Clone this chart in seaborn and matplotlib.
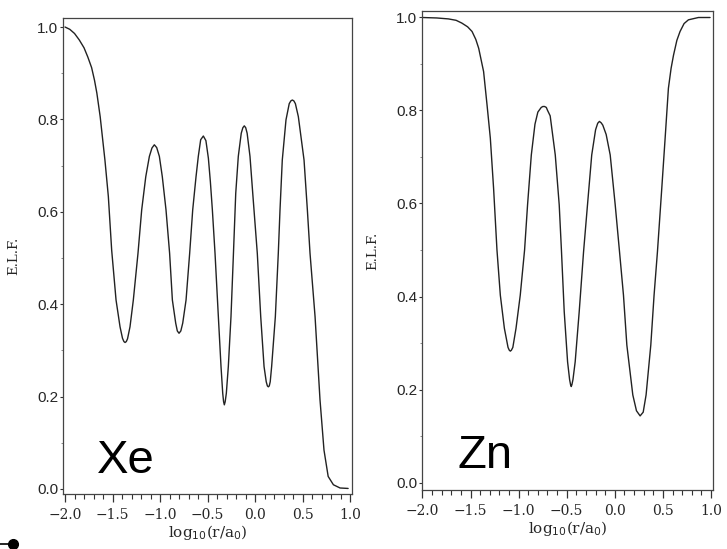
import matplotlib
matplotlib.use('Agg')
import matplotlib.pyplot as plt
from matplotlib.lines import Line2D
from matplotlib.ticker import MultipleLocator
import pandas as pd
import seaborn as sns

# valores: log10(r/a0) e E.L.F.
xe_x = [-2.00, -1.95, -1.90, -1.85, -1.80, -1.76, -1.72, -1.69, -1.665, -1.63,
        -1.58, -1.544, -1.509, -1.463, -1.421, -1.395, -1.380, -1.368, -1.355, -1.342,
        -1.316, -1.281, -1.232, -1.193, -1.150, -1.112, -1.085, -1.060, -1.035, -1.007,
        -0.976, -0.937, -0.899, -0.870, -0.835, -0.818, -0.800, -0.781, -0.761, -0.726,
        -0.688, -0.656, -0.621, -0.597, -0.572, -0.544, -0.517, -0.491, -0.470, -0.449,
        -0.421, -0.386, -0.358, -0.340, -0.331, -0.323, -0.314, -0.302, -0.281, -0.253,
        -0.228, -0.203, -0.176, -0.145, -0.128, -0.113, -0.098, -0.083, -0.053, -0.024,
        0.024, 0.060, 0.095, 0.118, 0.130, 0.140, 0.150, 0.160, 0.175, 0.214,
        0.245, 0.263, 0.287, 0.326, 0.360, 0.377, 0.393, 0.409, 0.425, 0.456,
        0.516, 0.551, 0.579, 0.632, 0.684, 0.726, 0.770, 0.825, 0.895, 0.980]
xe_y = [1.000, 0.995, 0.986, 0.972, 0.955, 0.935, 0.912, 0.885, 0.857, 0.806,
        0.712, 0.633, 0.517, 0.409, 0.351, 0.326, 0.319, 0.317, 0.319, 0.325,
        0.351, 0.409, 0.510, 0.604, 0.676, 0.720, 0.738, 0.745, 0.739, 0.720,
        0.676, 0.604, 0.510, 0.409, 0.359, 0.342, 0.337, 0.342, 0.359, 0.409,
        0.510, 0.604, 0.676, 0.720, 0.756, 0.764, 0.754, 0.716, 0.665, 0.604,
        0.510, 0.373, 0.265, 0.207, 0.189, 0.182, 0.189, 0.207, 0.265, 0.373,
        0.505, 0.640, 0.720, 0.770, 0.782, 0.786, 0.782, 0.770, 0.720, 0.640,
        0.510, 0.373, 0.265, 0.232, 0.223, 0.221, 0.223, 0.232, 0.265, 0.373,
        0.510, 0.604, 0.712, 0.799, 0.834, 0.840, 0.842, 0.840, 0.834, 0.806,
        0.712, 0.604, 0.510, 0.373, 0.193, 0.084, 0.027, 0.009, 0.002, 0.001]

zn_x = [-2.00, -1.85, -1.73, -1.65, -1.59, -1.53, -1.484, -1.445, -1.415, -1.364,
        -1.328, -1.294, -1.260, -1.225, -1.190, -1.148, -1.110, -1.097, -1.086, -1.075,
        -1.060, -1.027, -0.983, -0.938, -0.907, -0.868, -0.830, -0.800, -0.765, -0.748,
        -0.730, -0.712, -0.700, -0.672, -0.619, -0.578, -0.555, -0.526, -0.491, -0.470,
        -0.460, -0.453, -0.446, -0.435, -0.412, -0.370, -0.325, -0.284, -0.240, -0.200,
        -0.178, -0.160, -0.142, -0.125, -0.090, -0.048, 0.004, 0.049, 0.090, 0.125,
        0.187, 0.225, 0.263, 0.295, 0.325, 0.374, 0.408, 0.443, 0.488, 0.523,
        0.557, 0.585, 0.610, 0.645, 0.678, 0.720, 0.765, 0.869, 0.990]
zn_y = [0.999, 0.998, 0.996, 0.993, 0.987, 0.979, 0.969, 0.952, 0.933, 0.883,
        0.811, 0.740, 0.632, 0.500, 0.403, 0.332, 0.291, 0.285, 0.283, 0.285,
        0.291, 0.332, 0.403, 0.500, 0.597, 0.704, 0.770, 0.796, 0.806, 0.808,
        0.808, 0.806, 0.800, 0.788, 0.704, 0.597, 0.500, 0.368, 0.260, 0.222,
        0.211, 0.207, 0.211, 0.222, 0.260, 0.368, 0.496, 0.597, 0.704, 0.758,
        0.772, 0.776, 0.773, 0.768, 0.748, 0.704, 0.597, 0.496, 0.403, 0.296,
        0.189, 0.155, 0.144, 0.152, 0.189, 0.296, 0.403, 0.496, 0.632, 0.740,
        0.847, 0.890, 0.918, 0.950, 0.969, 0.986, 0.994, 0.999, 0.999]

elementos = ['Xe', 'Zn']
yticks = [0.0, 0.2, 0.4, 0.6, 0.8, 1.0]
xticks = [-2.0, -1.5, -1.0, -0.5, 0.0, 0.5, 1.0]

df_xe = pd.DataFrame({'r': xe_x, 'elf': xe_y})
df_zn = pd.DataFrame({'r': zn_x, 'elf': zn_y})

sns.set_style('ticks')
fig = plt.figure(figsize=(7.27, 5.49), dpi=100)

ax1 = fig.add_axes([0.0867, 0.1002, 0.3975, 0.867])
ax2 = fig.add_axes([0.5805, 0.1075, 0.4003, 0.8725])

# limites de cada painel medidos na figura
limites = {ax1: ((-2.021, 1.021), (-0.011, 1.0195)),
           ax2: ((-2.004, 1.021), (-0.015, 1.013))}

for ax, df, nome, pos in [(ax1, df_xe, elementos[0], (-1.663, 0.035)),
                          (ax2, df_zn, elementos[1], (-1.637, 0.032))]:
    sns.lineplot(data=df, x='r', y='elf', ax=ax, color='#222222', linewidth=1.0,
                 estimator=None, sort=False)
    ax.set_xlim(*limites[ax][0])
    ax.set_ylim(*limites[ax][1])
    ax.set_xticks(xticks)
    ax.set_xticklabels(['\u22122.0', '\u22121.5', '\u22121.0', '\u22120.5', '0.0', '0.5', '1.0'],
                       family='DejaVu Serif', fontsize=10)
    ax.set_yticks(yticks)
    ax.set_yticklabels(['%.1f' % v for v in yticks], family='Liberation Sans', fontsize=11)
    ax.xaxis.set_minor_locator(MultipleLocator(0.1))
    ax.yaxis.set_minor_locator(MultipleLocator(0.1))
    ax.tick_params(axis='x', which='major', direction='out', length=6, width=0.9, pad=4, color='#333333')
    ax.tick_params(axis='x', which='minor', direction='out', length=3.5, width=0.8, color='#333333')
    ax.tick_params(axis='y', which='major', direction='out', length=2.5, width=0.8, pad=1, color='#333333')
    ax.tick_params(axis='y', which='minor', direction='out', length=1.5, width=0.6, color='#777777')
    for s in ax.spines.values():
        s.set_visible(True)
        s.set_color('#444444')
        s.set_linewidth(0.9)
    ax.set_xlabel('log$_{10}$(r/a$_0$)', family='DejaVu Serif', fontsize=11, labelpad=1)
    ax.set_ylabel('E.L.F.', family='DejaVu Serif', fontsize=9.5, labelpad=12)
    ax.text(pos[0], pos[1], nome, family='Liberation Sans', fontsize=34, color='black')

# pontinho solto no canto inferior esquerdo
fig.add_artist(Line2D([0.0, 0.018], [0.009, 0.009], transform=fig.transFigure,
                      color='black', linewidth=1.2))
fig.add_artist(Line2D([0.018], [0.009], transform=fig.transFigure, marker='o',
                      markersize=7, color='black'))

fig.savefig('out.png', dpi=100)
